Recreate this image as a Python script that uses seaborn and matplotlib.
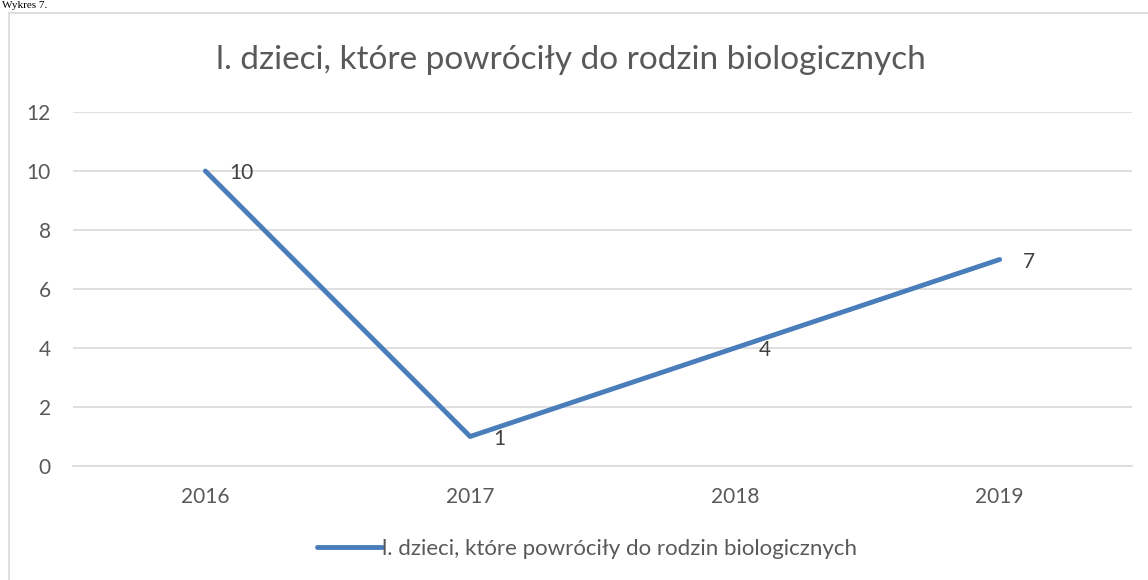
import matplotlib
matplotlib.use('Agg')
import matplotlib.pyplot as plt
import seaborn as sns
import pandas as pd
from matplotlib.patches import Rectangle

sns.set_style('white')
plt.rcParams['font.family'] = ['Lato', 'DejaVu Sans']

# data
years = ['2016', '2017', '2018', '2019']
values = [10, 1, 4, 7]
series_name = 'l. dzieci, które powróciły do rodzin biologicznych'
y_ticks = [0, 2, 4, 6, 8, 10, 12]

line_color = '#4A7EBB'
text_color = '#595959'
grid_color = '#D9D9D9'

df = pd.DataFrame({'rok': years, 'liczba': values})

fig = plt.figure(figsize=(11.48, 5.8), dpi=100)
W, H = 1148, 580
ax = fig.add_axes([73 / W, 1 - 466 / H, (1132 - 73) / W, (466 - 112) / H])

# outer chart frame (cut off at right/bottom like the screenshot)
fig.patches.append(Rectangle((9 / W, -0.1), 1.2, 1 - 13 / H + 0.1,
                             transform=fig.transFigure, fill=False,
                             edgecolor=grid_color, linewidth=1.2))
fig.text(2 / W, 1 - 1 / H, 'Wykres 7.', family='Liberation Serif',
         fontsize=8, va='top', ha='left', color='black')

sns.lineplot(data=df, x='rok', y='liczba', ax=ax, color=line_color,
             linewidth=3.5, label=series_name, legend=False)

for i, v in enumerate(values):
    ax.annotate(str(v), (i, v), xytext=(17, -1.5), textcoords='offset points',
                va='center', ha='left', fontsize=15, color='#404040')

ax.set_xlim(-0.5, 3.5)
ax.set_ylim(0, 12)
ax.set_yticks(y_ticks)
ax.yaxis.grid(True, color=grid_color, linewidth=1.2)
ax.xaxis.grid(False)
for s in ['top', 'right', 'left']:
    ax.spines[s].set_visible(False)
ax.spines['bottom'].set_color(grid_color)
ax.spines['bottom'].set_linewidth(1.2)
ax.tick_params(axis='both', length=0, labelsize=15, labelcolor=text_color)
ax.tick_params(axis='y', pad=16)
ax.tick_params(axis='x', pad=15)
ax.set_xlabel('')
ax.set_ylabel('')

fig.text(571 / W, 1 - 60 / H, series_name, ha='center', va='center',
         fontsize=24, color=text_color)

handles, labels = ax.get_legend_handles_labels()
fig.legend(handles, labels, loc='center', bbox_to_anchor=(587 / W, 1 - 549 / H),
           frameon=False, fontsize=16, labelcolor=text_color,
           handlelength=2.9, handletextpad=0.0)

fig.savefig('out.png', dpi=100)
